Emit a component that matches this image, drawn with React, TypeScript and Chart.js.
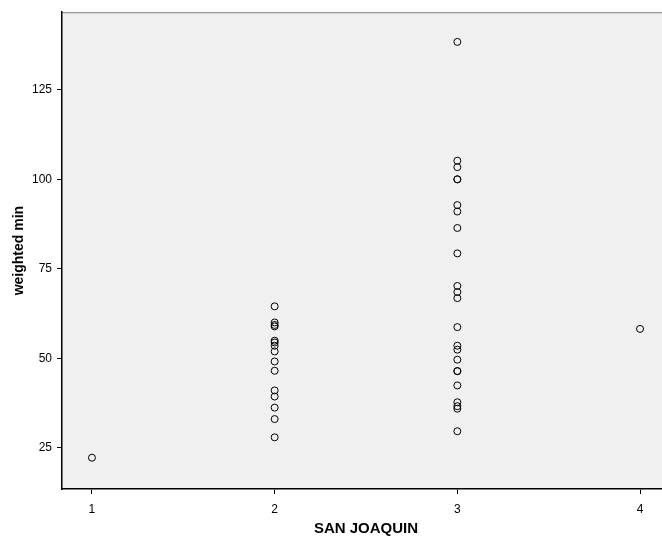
import React, { useEffect, useRef } from "react";
import { Chart, registerables } from "chart.js";

Chart.register(...registerables);

// SAN JOAQUIN category values (x) and their weighted min observations (y)
const xTicks = [1, 2, 3, 4];
const yTicks = [25, 50, 75, 100, 125];

const group1 = [22.2];
const group2 = [64.5, 60.0, 59.3, 58.9, 54.9, 54.4, 53.5, 51.9, 49.1, 46.5, 41.0, 39.3, 36.2, 33.0, 27.9];
const group3 = [
  138.4, 105.2, 103.4, 100.0, 100.0, 92.8, 91.0, 86.4, 79.3, 70.2, 68.5, 66.8,
  58.7, 53.5, 52.4, 49.6, 46.4, 46.4, 42.4, 37.7, 36.6, 35.9, 29.6,
];
const group4 = [58.2];

const groups = [group1, group2, group3, group4];

const X_MIN = 0.836;
const X_MAX = 4.164;
const Y_MIN = 13.46;
const Y_MAX = 146.7;

const FONT = "Arial, 'Liberation Sans', Helvetica, sans-serif";

const bgPlugin = {
  id: "plotBg",
  beforeDraw(chart: any) {
    const { ctx, chartArea } = chart;
    if (!chartArea) return;
    ctx.save();
    ctx.fillStyle = "#f0f0f0";
    ctx.fillRect(chartArea.left, chartArea.top, chartArea.right - chartArea.left, chartArea.bottom - chartArea.top);
    ctx.strokeStyle = "#808080";
    ctx.lineWidth = 1;
    ctx.beginPath();
    ctx.moveTo(chartArea.left, chartArea.top + 0.5);
    ctx.lineTo(chartArea.right, chartArea.top + 0.5);
    ctx.stroke();
    ctx.restore();
  },
};

export default function App() {
  const ref = useRef<HTMLCanvasElement | null>(null);

  useEffect(() => {
    if (!ref.current) return;
    const points: { x: number; y: number }[] = [];
    groups.forEach((g, i) => {
      g.forEach((v) => points.push({ x: xTicks[i], y: v }));
    });

    const chart = new Chart(ref.current, {
      type: "scatter",
      data: {
        datasets: [
          {
            data: points,
            pointStyle: "circle",
            pointRadius: 3.5,
            pointHoverRadius: 3.5,
            pointBorderWidth: 1,
            pointBorderColor: "#000",
            pointBackgroundColor: "rgba(0,0,0,0)",
          },
        ],
      },
      options: {
        responsive: false,
        animation: false,
        devicePixelRatio: 1,
        layout: { padding: { top: 11, right: 10, left: 0, bottom: 0 } },
        plugins: {
          legend: { display: false },
          tooltip: { enabled: false },
        },
        scales: {
          x: {
            type: "linear",
            min: X_MIN,
            max: X_MAX,
            afterFit: (s: any) => {
              s.height = 49;
            },
            afterBuildTicks: (s: any) => {
              s.ticks = xTicks.map((v) => ({ value: v }));
            },
            grid: {
              display: true,
              drawOnChartArea: false,
              drawTicks: true,
              tickLength: 5,
              color: "#000",
            },
            border: { display: true, color: "#000", width: 1.5 },
            ticks: {
              color: "#000",
              padding: 8,
              font: { family: FONT, size: 12 },
              callback: (v: any) => String(v),
            },
            title: {
              display: true,
              text: "SAN JOAQUIN",
              color: "#000",
              font: { family: FONT, size: 15, weight: "bold" },
              padding: { top: 0, bottom: 0 },
            },
          },
          y: {
            type: "linear",
            min: Y_MIN,
            max: Y_MAX,
            afterFit: (s: any) => {
              s.width = 62;
            },
            afterBuildTicks: (s: any) => {
              s.ticks = yTicks.map((v) => ({ value: v }));
            },
            grid: {
              display: true,
              drawOnChartArea: false,
              drawTicks: true,
              tickLength: 5,
              color: "#000",
            },
            border: { display: true, color: "#000", width: 1.5 },
            ticks: {
              color: "#000",
              padding: 5,
              font: { family: FONT, size: 12 },
              callback: (v: any) => String(v),
            },
            title: {
              display: true,
              text: "weighted min",
              color: "#000",
              font: { family: FONT, size: 14, weight: "bold" },
              padding: { top: 11, bottom: 0 },
            },
          },
        },
      },
      plugins: [bgPlugin],
    });
    return () => chart.destroy();
  }, []);

  return (
    <div
      style={{
        position: "fixed",
        left: 0,
        top: 0,
        width: 662,
        height: 538,
        overflow: "hidden",
        background: "#fff",
      }}
    >
      <canvas ref={ref} width={680} height={538} style={{ width: 680, height: 538, display: "block" }} />
    </div>
  );
}
